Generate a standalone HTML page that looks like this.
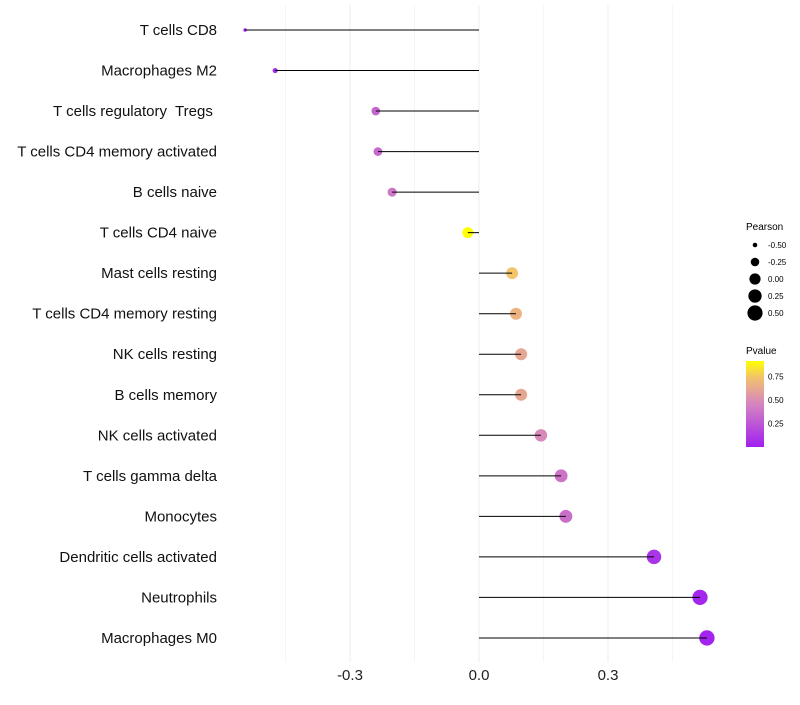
<!DOCTYPE html>
<html><head><meta charset="utf-8"><style>
body{margin:0;background:#fff;font-family:"Liberation Sans",sans-serif}
text{white-space:pre}
</style></head><body>
<svg id="chart" width="800" height="700" xmlns="http://www.w3.org/2000/svg">
<defs><linearGradient id="pg" x1="0" y1="1" x2="0" y2="0">
<stop offset="0" stop-color="#a020f0"/><stop offset="0.5" stop-color="#d585c0"/><stop offset="0.8" stop-color="#f2c070"/><stop offset="1" stop-color="#ffff00"/></linearGradient></defs>
<g id="grid"></g>
<g id="marks"></g>
<g id="labels"></g>
<g id="xticks"></g>
<g font-size="9">
<text x="746" y="230" font-size="10">Pearson</text>
<g id="sizeLeg"></g>
</g>
<g font-size="9">
<text x="746" y="354" font-size="10">Pvalue</text>
<rect x="746" y="361" width="18" height="86" fill="url(#pg)"/>
<g id="colLeg"></g>
</g>
</svg>
<script>
const categories=["T cells CD8","Macrophages M2","T cells regulatory  Tregs ","T cells CD4 memory activated","B cells naive","T cells CD4 naive","Mast cells resting","T cells CD4 memory resting","NK cells resting","B cells memory","NK cells activated","T cells gamma delta","Monocytes","Dendritic cells activated","Neutrophils","Macrophages M0"];
const pearson=[-0.544,-0.474,-0.240,-0.235,-0.202,-0.026,0.077,0.086,0.098,0.098,0.144,0.191,0.202,0.407,0.514,0.530];
const pvalue=[0.02,0.05,0.32,0.33,0.40,0.92,0.75,0.68,0.62,0.62,0.48,0.38,0.36,0.09,0.03,0.02];
const xTicks=[-0.3,0,0.3];
const xMinor=[-0.45,-0.15,0.15,0.45];
const sizeBreaks=[-0.5,-0.25,0,0.25,0.5];
const pBreaks=[0.25,0.5,0.75];
const NS="http://www.w3.org/2000/svg";
const X=v=>479+v*430;
const Y=i=>30+i*40.53;
const R=p=>1.1*Math.sqrt(Math.max(0.5,2.2+43*(p+0.55)));
function lerp(a,b,t){return a.map((v,k)=>Math.round(v+(b[k]-v)*t));}
function col(p){const s=[[0,[160,32,240]],[0.46,[213,133,192]],[0.74,[242,192,112]],[0.92,[255,255,0]]];
 if(p<=0)return"rgb(160,32,240)";for(let i=1;i<s.length;i++){if(p<=s[i][0]){const c=lerp(s[i-1][1],s[i][1],(p-s[i-1][0])/(s[i][0]-s[i-1][0]));return`rgb(${c})`;}}return"rgb(255,255,0)";}
function mk(t,a,parent){const e=document.createElementNS(NS,t);for(const k in a)e.setAttribute(k,a[k]);parent.appendChild(e);return e;}
const grid=document.getElementById('grid'),marks=document.getElementById('marks'),labels=document.getElementById('labels'),xt=document.getElementById('xticks');
xMinor.forEach(v=>{const l=mk('line',{x1:X(v),x2:X(v),y1:5,y2:662,stroke:'#f5f5f5','stroke-width':1},grid);

});
xTicks.forEach(v=>{const l=mk('line',{x1:X(v),x2:X(v),y1:5,y2:662,stroke:'#eeeeee','stroke-width':1},grid);


const t=mk('text',{x:X(v),y:680,'text-anchor':'middle','font-size':15,fill:'#222'},xt);t.textContent=v===0?'0.0':v.toFixed(1);

});
categories.forEach((c,i)=>{const y=Y(i);
const d=mk('circle',{cx:X(pearson[i]),cy:y,r:R(pearson[i]),fill:col(pvalue[i])},marks);


const l=mk('line',{x1:X(0),x2:X(pearson[i]),y1:y,y2:y,stroke:'#000','stroke-width':1},marks);


const t=mk('text',{x:217,y:y+5,'text-anchor':'end','font-size':15,fill:'#111'},labels);t.textContent=c;

});
const sl=document.getElementById('sizeLeg');
sizeBreaks.forEach((b,i)=>{const y=245+i*17;
const c=mk('circle',{cx:755,cy:y,r:R(b),fill:'#000'},sl);


const t=mk('text',{x:768,y:y+3,'font-size':8},sl);t.textContent=b.toFixed(2);

});
const cl=document.getElementById('colLeg');
pBreaks.forEach(b=>{const y=447-b*94;
const t=mk('text',{x:768,y:y+3,'font-size':8},cl);t.textContent=b.toFixed(2);

});
</script>
</body></html>
